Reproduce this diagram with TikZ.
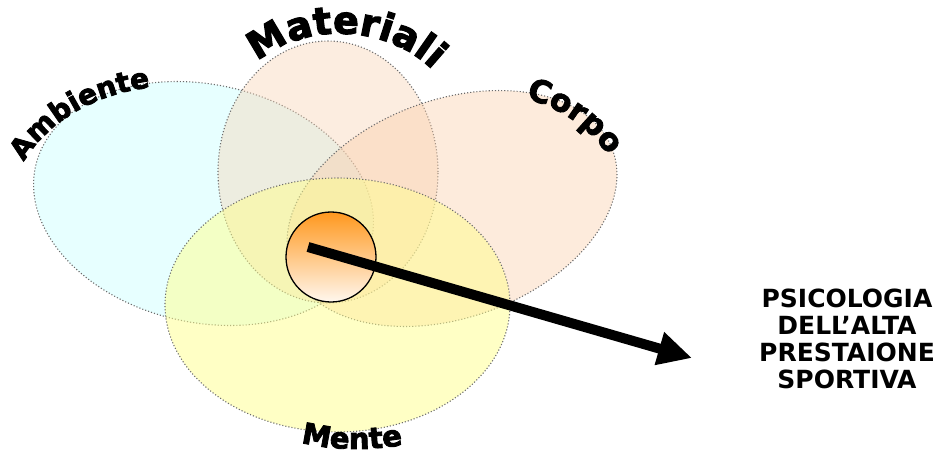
\documentclass[tikz,border=0pt]{standalone}
\usepackage{fontspec}
\usepackage{tikz}
\usetikzlibrary{shapes.geometric,decorations.text,arrows.meta}
\newfontfamily\heavyfont{DejaVu Sans}[BoldFeatures={FakeBold=3}]
\newfontfamily\titlefont{DejaVu Sans}
\pgfdeclarelayer{setlayer}
\pgfdeclarelayer{nodelayer}
\pgfsetlayers{setlayer,main,nodelayer}
\definecolor{ambfill}{RGB}{215,255,255}
\definecolor{matfill}{RGB}{248,210,178}
\definecolor{corfill}{RGB}{250,205,168}
\definecolor{menfill}{RGB}{255,255,140}
\definecolor{coretop}{RGB}{255,152,30}
\definecolor{corebot}{RGB}{255,247,238}
\tikzstyle{set}=[ellipse, draw=gray!85!black, dotted, line width=1.1pt, inner sep=0pt]
\tikzstyle{ambset}=[set, fill=ambfill, fill opacity=0.6]
\tikzstyle{matset}=[set, fill=matfill, fill opacity=0.4]
\tikzstyle{corset}=[set, fill=corfill, fill opacity=0.4]
\tikzstyle{menset}=[set, fill=menfill, fill opacity=0.5]
\tikzstyle{core}=[circle, draw=black, line width=1.3pt, top color=coretop, bottom color=corebot, minimum size=90pt, inner sep=0pt]
\tikzstyle{bigedge}=[draw=black, line width=10pt, -{Triangle[length=34pt,width=32pt]}]
\tikzstyle{title}=[font=\titlefont\bfseries\fontsize{25}{27}\selectfont, align=center]

\begin{document}
\begin{tikzpicture}[x=1pt, y=-1pt]
	\useasboundingbox (0,0) rectangle (944,450);
	\begin{pgfonlayer}{setlayer}
		\node [style=ambset, minimum width=344pt, minimum height=238pt, rotate=-12.4] (amb) at (203.5,203.5) {};
		\node [style=matset, minimum width=220pt, minimum height=262pt] (mat) at (328,172) {};
		\node [style=corset, minimum width=342pt, minimum height=218pt, rotate=20] (cor) at (452,208.5) {};
		\node [style=menset, minimum width=345pt, minimum height=254pt] (men) at (337.5,305) {};
	\end{pgfonlayer}
	% labels of the four sets
	\path [decorate, decoration={text along path, text align=center,
		text={|\heavyfont\bfseries\fontsize{28}{28}\selectfont|Ambiente}}]
		(18,172) .. controls (44,122) and (94,92) .. (162,86);
	\path [decorate, decoration={text along path, text align=center,
		text={|\heavyfont\bfseries\fontsize{38}{38}\selectfont|Materiali}}]
		(248,72) .. controls (290,22) and (390,17) .. (442,80);
	\path [decorate, decoration={text along path, text align=center,
		text={|\heavyfont\bfseries\fontsize{31}{31}\selectfont|Corpo}}]
		(516,96) .. controls (553,104) and (590,124) .. (614,164);
	\path [decorate, decoration={text along path, text align=center,
		text={|\heavyfont\bfseries\fontsize{29}{29}\selectfont|Mente}}]
		(296,441) .. controls (330,451) and (372,451) .. (408,444);
	\node [style=core] (centre) at (331,257) {};
	\node [style=title] (goal) at (847,339) {PSICOLOGIA\\DELL’ALTA\\PRESTAIONE\\SPORTIVA};
	\begin{pgfonlayer}{nodelayer}
		\coordinate (start) at (308,247);
		\coordinate (tip) at (692,358);
		\draw [style=bigedge] (start) to (tip);
	\end{pgfonlayer}
\end{tikzpicture}
\end{document}
